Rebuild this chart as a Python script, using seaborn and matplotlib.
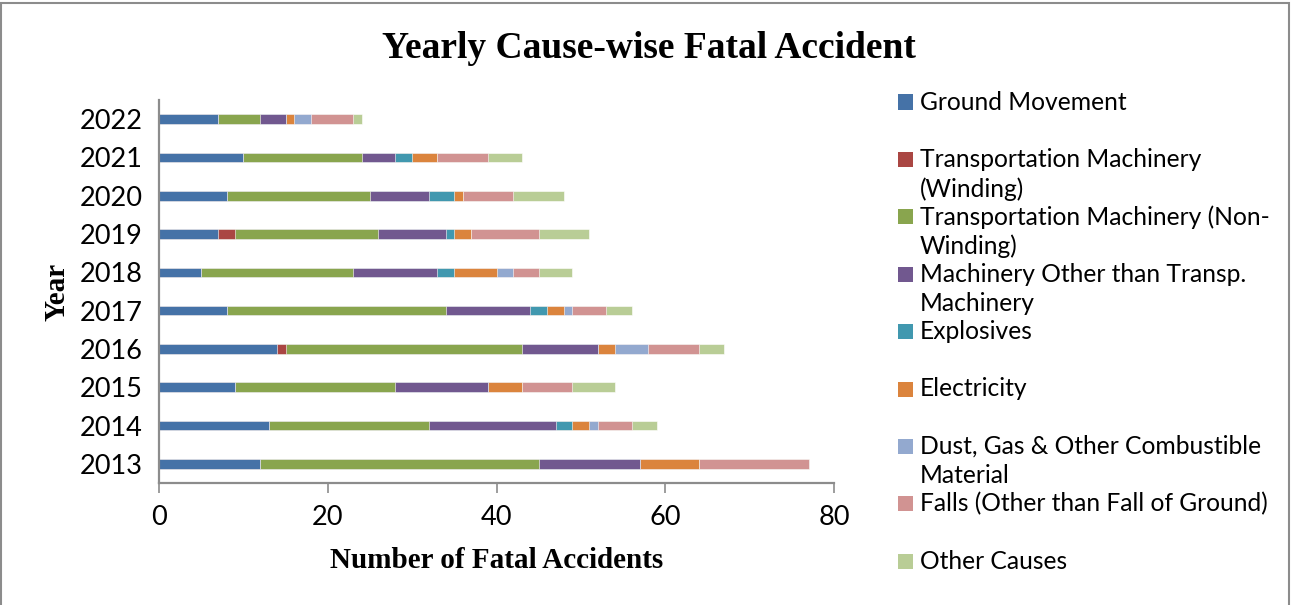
import numpy as np
import pandas as pd
import matplotlib
matplotlib.use("Agg")
import matplotlib.pyplot as plt
import seaborn as sns
from matplotlib.patches import Rectangle

years = ["2022", "2021", "2020", "2019", "2018", "2017", "2016", "2015", "2014", "2013"]
causes = [
    "Ground Movement",
    "Transportation Machinery (Winding)",
    "Transportation Machinery (Non-Winding)",
    "Machinery Other than Transp. Machinery",
    "Explosives",
    "Electricity",
    "Dust, Gas & Other Combustible Material",
    "Falls (Other than Fall of Ground)",
    "Other Causes",
]
legend_labels = [
    "Ground Movement",
    "Transportation Machinery\n(Winding)",
    "Transportation Machinery (Non-\nWinding)",
    "Machinery Other than Transp.\nMachinery",
    "Explosives",
    "Electricity",
    "Dust, Gas & Other Combustible\nMaterial",
    "Falls (Other than Fall of Ground)",
    "Other Causes",
]
ground_movement = [7, 10, 8, 7, 5, 8, 14, 9, 13, 12]
transp_winding = [0, 0, 0, 2, 0, 0, 1, 0, 0, 0]
transp_non_winding = [5, 14, 17, 17, 18, 26, 28, 19, 19, 33]
machinery_other = [3, 4, 7, 8, 10, 10, 9, 11, 15, 12]
explosives = [0, 2, 3, 1, 2, 2, 0, 0, 2, 0]
electricity = [1, 3, 1, 2, 5, 2, 2, 4, 2, 7]
dust_gas = [2, 0, 0, 0, 2, 1, 4, 0, 1, 0]
falls = [5, 6, 6, 8, 3, 4, 6, 6, 4, 13]
other_causes = [1, 4, 6, 6, 4, 3, 3, 5, 3, 0]

series = [ground_movement, transp_winding, transp_non_winding, machinery_other,
          explosives, electricity, dust_gas, falls, other_causes]
colors = ["#4572A7", "#AA4643", "#89A54E", "#71588F", "#4198AF",
          "#DB843D", "#93A9CF", "#D19392", "#B9CD96"]

sns.set_theme(style="white")
plt.rcParams["font.family"] = ["Lato", "DejaVu Sans"]
plt.rcParams["text.color"] = "black"

W, H = 1301, 605
fig = plt.figure(figsize=(W / 100, H / 100), dpi=100)
ax = fig.add_axes([159 / W, 1 - 483 / H, (834 - 159) / W, (483 - 100) / H])

df = pd.DataFrame({c: s for c, s in zip(causes, series)}, index=years)
cum = df.cumsum(axis=1)
for i in range(len(causes) - 1, -1, -1):
    d = pd.DataFrame({"Year": years, "value": cum[causes[i]].values})
    sns.barplot(data=d, x="value", y="Year", order=years, orient="h",
                color=colors[i], saturation=1, width=0.25, ax=ax,
                edgecolor="white", linewidth=0.4)

ax.set_xlim(0, 80)
ax.set_xticks([0, 20, 40, 60, 80])
ax.set_xlabel("")
ax.set_ylabel("")
for s in ["top", "right"]:
    ax.spines[s].set_visible(False)
for s in ["left", "bottom"]:
    ax.spines[s].set_color("#8C8C8C")
    ax.spines[s].set_linewidth(1.6)
ax.tick_params(axis="x", direction="out", length=7, width=1.2, color="#8C8C8C",
               pad=9, labelsize=19.5, labelcolor="black", bottom=True)
ax.tick_params(axis="y", length=0, pad=12, labelsize=19.5, labelcolor="black")

serif = ["Liberation Serif", "DejaVu Serif"]
fig.text(649 / W, 1 - 48 / H, "Yearly Cause-wise Fatal Accident", ha="center",
         va="center", fontsize=27, fontweight="bold", family=serif, color="black")
fig.text(497 / W, 1 - 560 / H, "Number of Fatal Accidents", ha="center",
         va="center", fontsize=21, fontweight="bold", family=serif, color="black")
fig.text(57 / W, 1 - 292 / H, "Year", ha="center", va="center", rotation=90,
         fontsize=21, fontweight="bold", family=serif, color="black")

# legend (Excel-style, wrapped entries)
y0, step, lstep = 102, 57.4, 29.5
for i, (lab, col) in enumerate(zip(legend_labels, colors)):
    yc = y0 + i * step
    fig.patches.append(Rectangle((898 / W, 1 - (yc + 7.5) / H), 15 / W, 15 / H,
                                 transform=fig.transFigure, facecolor=col,
                                 edgecolor="none"))
    for j, line in enumerate(lab.split("\n")):
        fig.text(920 / W, 1 - (yc + j * lstep) / H, line, ha="left",
                 va="center", fontsize=17.7, color="black")

# outer frame
fig.patches.append(Rectangle((1 / W, -0.02), 1288 / W, 1 - 3 / H + 0.02,
                             transform=fig.transFigure, facecolor="none",
                             edgecolor="#8C8C8C", linewidth=1.5))

fig.savefig("out.png", dpi=100)
